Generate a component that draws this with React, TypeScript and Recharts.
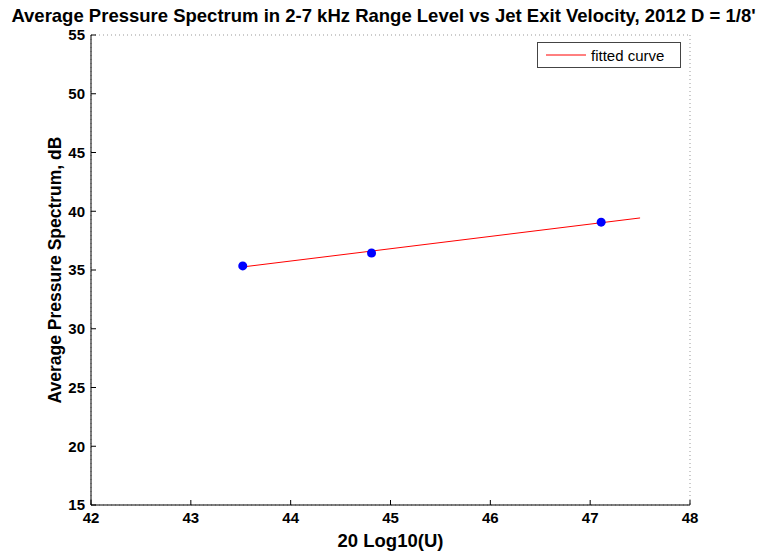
import {
	CartesianGrid,
	ComposedChart,
	Line,
	Scatter,
	XAxis,
	YAxis,
} from "recharts";

const measured = [
	{ x: 43.52, y: 35.35 },
	{ x: 44.81, y: 36.45 },
	{ x: 47.11, y: 39.07 },
];

const fitted = [
	{ x: 43.52, y: 35.26 },
	{ x: 47.5, y: 39.43 },
];

const xTicks = [42, 43, 44, 45, 46, 47, 48];
const yTicks = [15, 20, 25, 30, 35, 40, 45, 50, 55];

const font = "'Liberation Sans', Arial, sans-serif";
const tickStyle = { fontSize: 15, fontWeight: 700, fill: "#000", fontFamily: font };

function FittedLegend() {
	return (
		<div
			style={{
				position: "absolute",
				left: 537,
				top: 42,
				width: 144,
				height: 26,
				boxSizing: "border-box",
				border: "1px solid #444",
				background: "#fff",
				paddingLeft: 8,
				display: "flex",
				alignItems: "center",
				fontFamily: font,
				fontSize: 15,
				color: "#000",
			}}
		>
			<svg width={40} height={4} style={{ marginRight: 5 }}>
				<line x1={0} y1={2} x2={40} y2={2} stroke="#ff0000" strokeWidth={1} />
			</svg>
			fitted curve
		</div>
	);
}

export default function App() {
	return (
		<div style={{ position: "absolute", left: 0, top: 0, width: 763, height: 552, background: "#fff" }}>
			<div
				style={{
					position: "absolute",
					top: 5,
					left: 0,
					width: 767,
					textAlign: "center",
					fontFamily: font,
					fontWeight: 700,
					fontSize: 18.5,
					color: "#000",
					whiteSpace: "nowrap",
				}}
			>
				Average Pressure Spectrum in 2-7 kHz Range Level vs Jet Exit Velocity, 2012 D = 1/8'
			</div>
			<ComposedChart width={763} height={552} margin={{ top: 35, right: 73, bottom: 0, left: 19 }}>
				<CartesianGrid stroke="#999" strokeDasharray="1 3" />
				<XAxis
					xAxisId="b"
					type="number"
					dataKey="x"
					domain={[42, 48]}
					ticks={xTicks}
					height={47}
					tickSize={-5}
					tickMargin={12}
					stroke="#000"
					tick={tickStyle}
					label={{
						value: "20 Log10(U)",
						position: "insideBottom",
						offset: 5,
						style: { fontSize: 18.5, fontWeight: 700, fill: "#000", fontFamily: font },
					}}
				/>
				<XAxis
					xAxisId="t"
					orientation="top"
					type="number"
					dataKey="x"
					domain={[42, 48]}
					ticks={xTicks}
					height={0}
					tickSize={-5}
					stroke="#000"
					tickFormatter={() => ""}
				/>
				<YAxis
					yAxisId="l"
					type="number"
					domain={[15, 55]}
					ticks={yTicks}
					width={72}
					tickSize={-5}
					tickMargin={11}
					stroke="#000"
					tick={tickStyle}
					label={{
						value: "Average Pressure Spectrum, dB",
						angle: -90,
						position: "center",
						style: { fontSize: 17.5, fontWeight: 700, fill: "#000", fontFamily: font, textAnchor: "middle" },
					}}
				/>
				<YAxis
					yAxisId="r"
					orientation="right"
					type="number"
					domain={[15, 55]}
					ticks={yTicks}
					width={0}
					tickSize={-5}
					stroke="#000"
					tickFormatter={() => ""}
				/>
				<Line
					xAxisId="b"
					yAxisId="l"
					data={fitted}
					dataKey="y"
					stroke="#ff0000"
					strokeWidth={1}
					dot={false}
					isAnimationActive={false}
					name="fitted curve"
				/>
				<Scatter
					xAxisId="b"
					yAxisId="l"
					data={measured}
					dataKey="y"
					fill="#0000ff"
					shape={(p: any) => <circle cx={p.cx} cy={p.cy} r={4.5} fill="#0000ff" />}
					isAnimationActive={false}
				/>
			</ComposedChart>
			<FittedLegend />
		</div>
	);
}
